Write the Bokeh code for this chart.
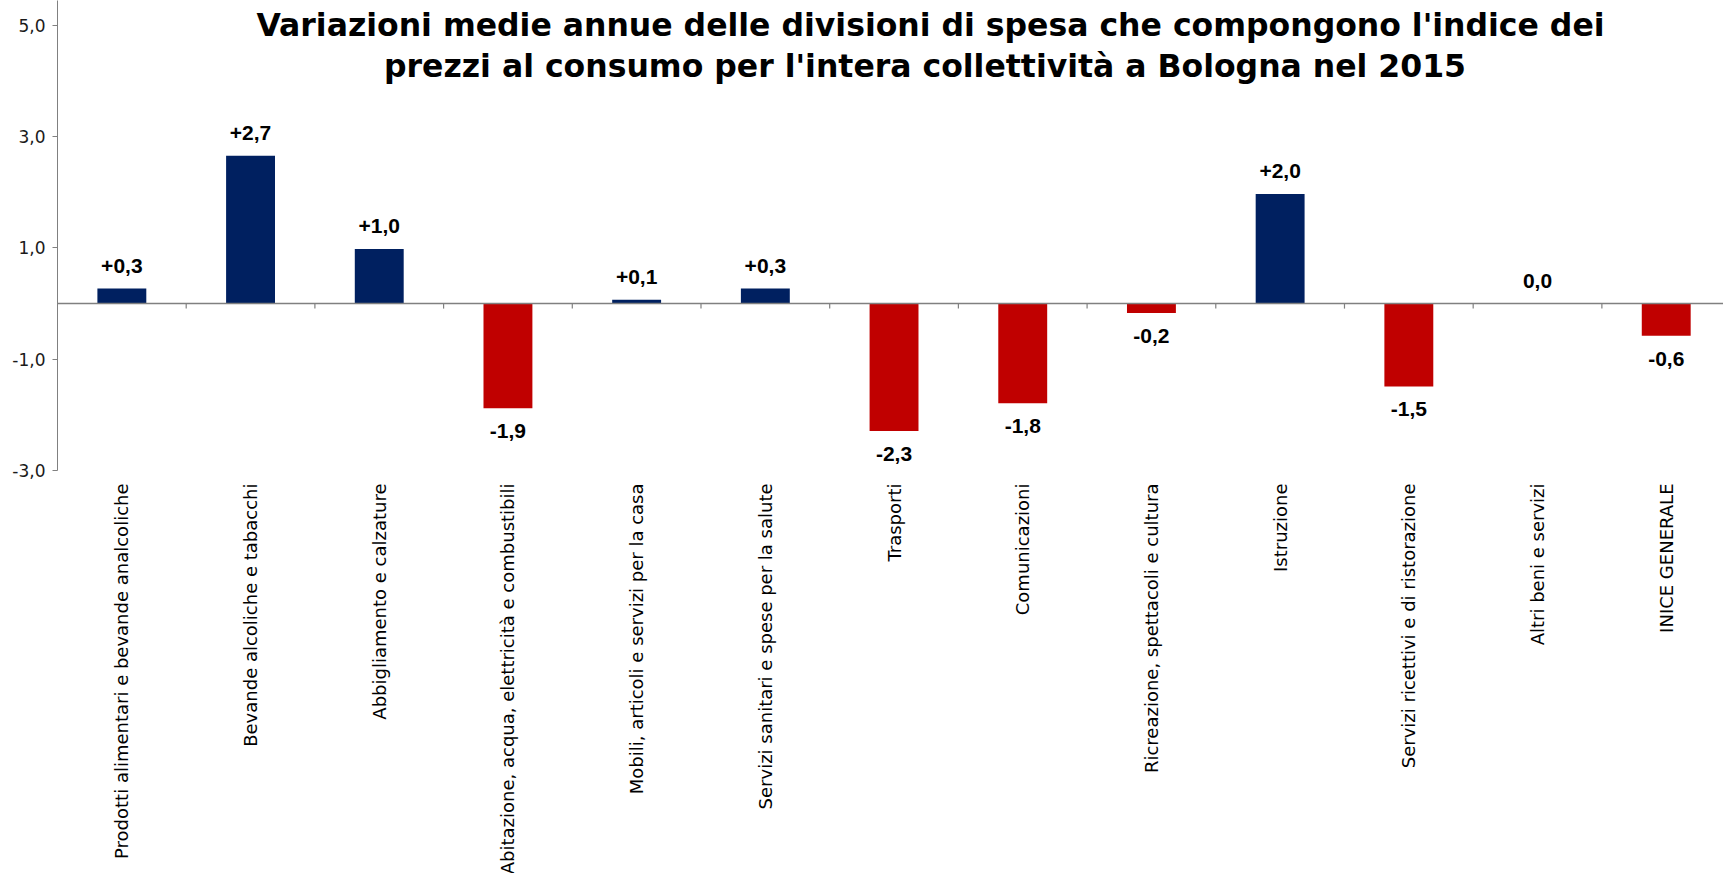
import math
from bokeh.plotting import figure
from bokeh.models import ColumnDataSource, FixedTicker, Label, Range1d, Span
from bokeh.core.properties import value
from bokeh.embed import file_html
from bokeh.resources import INLINE

title_lines = [
    "Variazioni medie annue delle divisioni di spesa che compongono l'indice dei",
    "prezzi al consumo per l'intera collettività  a Bologna nel 2015",
]
categories = [
    "Prodotti alimentari e bevande analcoliche",
    "Bevande alcoliche e tabacchi",
    "Abbigliamento e calzature",
    "Abitazione, acqua, elettricità e combustibili",
    "Mobili, articoli e servizi per la casa",
    "Servizi sanitari e spese per la salute",
    "Trasporti",
    "Comunicazioni",
    "Ricreazione, spettacoli e cultura",
    "Istruzione",
    "Servizi ricettivi e di ristorazione",
    "Altri beni e servizi",
    "INICE GENERALE",
]
values = [0.27, 2.66, 0.98, -1.88, 0.07, 0.27, -2.29, -1.79, -0.17, 1.97, -1.49, 0.0, -0.58]
y_ticks = [-3, -1, 1, 3, 5]

NAVY = "#002060"
RED = "#C00000"
AXIS_GRAY = "#808080"
FONT = "DejaVu Sans"
BOLD_FONT = "Arial"


def fmt(v):
    r = round(v, 1)
    if r == 0:
        return "0,0"
    return f"{r:+.1f}".replace(".", ",")


n = len(categories)
xs = [i + 0.5 for i in range(n)]
pos = [v >= 0 for v in values]

bar_src = ColumnDataSource(dict(
    x=xs, top=values, color=[NAVY if p_ else RED for p_ in pos],
))
pos_src = ColumnDataSource(dict(
    x=[x for x, p_ in zip(xs, pos) if p_],
    y=[v for v, p_ in zip(values, pos) if p_],
    t=[fmt(v) for v, p_ in zip(values, pos) if p_],
))
neg_src = ColumnDataSource(dict(
    x=[x for x, p_ in zip(xs, pos) if not p_],
    y=[v for v, p_ in zip(values, pos) if not p_],
    t=[fmt(v) for v, p_ in zip(values, pos) if not p_],
))

Y_MIN, Y_MAX = y_ticks[0], 5.449
Y_FRAME_MIN = -10.245
X1 = 12.945
cat_src = ColumnDataSource(dict(x=xs, y=[Y_MIN] * n, t=categories))
bnd_src = ColumnDataSource(dict(x=list(range(1, n)), y=[0] * (n - 1)))

p = figure(
    width=1723, height=873,
    x_range=Range1d(0, X1), y_range=Range1d(Y_FRAME_MIN, Y_MAX),
    output_backend="svg", toolbar_location=None,
    x_axis_location=None,
    min_border_left=57, min_border_right=0, min_border_top=0, min_border_bottom=0,
)
p.outline_line_color = None
p.grid.visible = False
p.background_fill_color = "white"
p.border_fill_color = "white"

p.vbar(x="x", top="top", bottom=0, width=0.38, fill_color="color", line_color=None, source=bar_src)

# y axis
ya = p.yaxis[0]
ya.ticker = FixedTicker(ticks=y_ticks)
ya.bounds = (Y_MIN, Y_MAX)
ya.major_label_overrides = {t: f"{t:.1f}".replace(".", ",") for t in y_ticks}
ya.axis_line_color = AXIS_GRAY
ya.major_tick_line_color = AXIS_GRAY
ya.minor_tick_line_color = None
ya.major_tick_in = 0
ya.major_tick_out = 5
ya.major_label_standoff = 7
ya.major_label_text_font = FONT
ya.major_label_text_font_size = "17px"
ya.major_label_text_color = "#1a1a1a"

# zero line and category boundary ticks
p.add_layout(Span(location=0, dimension="width", line_color=AXIS_GRAY, line_width=1.5))
p.ray(x="x", y="y", length=5, length_units="screen", angle=-math.pi / 2,
      line_color=AXIS_GRAY, line_width=1.2, source=bnd_src)

# value labels
p.text(x="x", y="y", text="t", source=pos_src, y_offset=-23,
       text_align="center", text_baseline="alphabetic",
       text_font=value(BOLD_FONT), text_font_style="bold", text_font_size="21px",
       text_color="black")
p.text(x="x", y="y", text="t", source=neg_src, y_offset=16,
       text_align="center", text_baseline="top",
       text_font=value(BOLD_FONT), text_font_style="bold", text_font_size="21px",
       text_color="black")

# category labels (vertical)
p.text(x="x", y="y", text="t", source=cat_src, y_offset=13,
       angle=math.pi / 2, text_align="right", text_baseline="middle",
       text_font=value(FONT), text_font_size="18px", text_color="black")

# title
for i, line in enumerate(title_lines):
    p.add_layout(Label(x=X1 / 2, y=Y_MAX, x_offset=40, y_offset=-24 - 41 * i, text=line,
                       text_align="center", text_baseline="alphabetic",
                       text_font=FONT, text_font_style="bold", text_font_size="31.5px",
                       text_color="black"))

open("out.html", "w").write(file_html(p, INLINE))
